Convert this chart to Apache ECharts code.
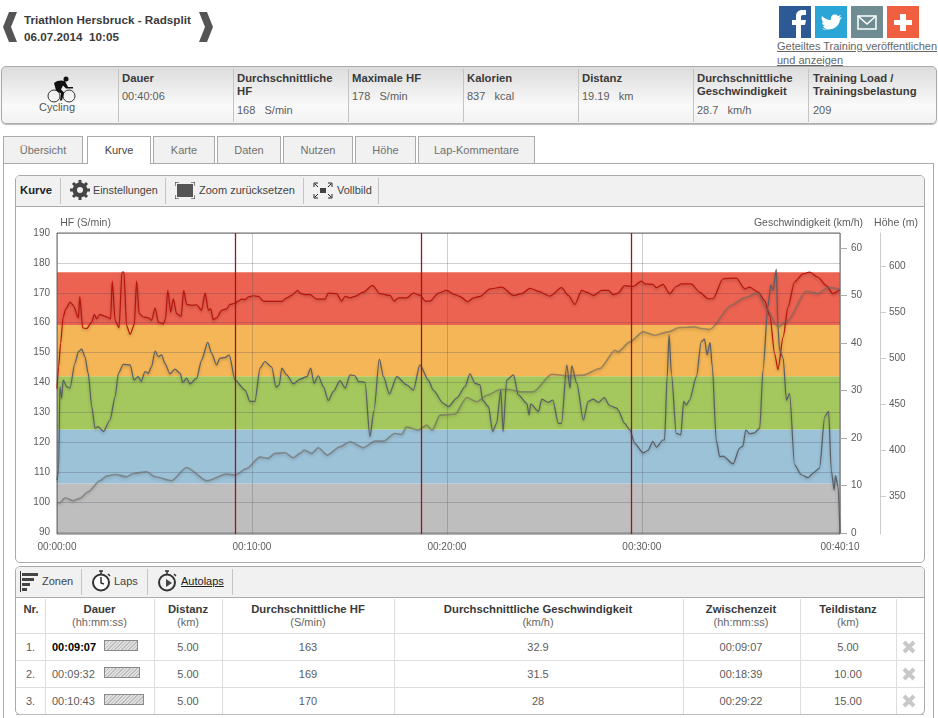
<!DOCTYPE html>
<html><head><meta charset="utf-8">
<script src="https://cdn.jsdelivr.net/npm/echarts@6/dist/echarts.min.js"></script>
<style>
html,body{margin:0;padding:0;width:938px;height:718px;overflow:hidden;background:#fff;font-family:"Liberation Sans",Arial,sans-serif;font-size:11px;color:#5c5c5c}
.a{position:absolute;white-space:nowrap}
.b{font-weight:bold;color:#3a3a3a;font-size:11.300px}
.sep{position:absolute;width:1px;background:#c4c4c4}
.box{position:absolute;box-sizing:border-box}
.tab{position:absolute;top:136px;height:27px;box-sizing:border-box;border:1px solid #aaa;border-bottom:none;background:#f1f1f1;text-align:center;line-height:26px;color:#707070}
.c{position:absolute;text-align:center;transform:translateX(-50%);white-space:nowrap}
.hatch{position:absolute;left:104px;height:11px;box-sizing:border-box;border:1px solid #8a8a8a;background:repeating-linear-gradient(135deg,#bbb 0 1px,#e2e2e2 1px 2.5px)}
.x{position:absolute;left:901px;font-size:0}
</style></head><body>
<svg class="a" style="left:3px;top:12px" width="14" height="30"><path d="M14 0L6 0L0 15L6 30L14 30L8 15Z" fill="#555"/></svg>
<svg class="a" style="left:199px;top:12px" width="14" height="30"><path d="M0 0L8 0L14 15L8 30L0 30L6 15Z" fill="#555"/></svg>
<div class="a b" style="left:24px;top:13px;font-size:11.700px;color:#3c3c3c">Triathlon Hersbruck - Radsplit</div>
<div class="a b" style="left:24px;top:30px;font-size:11.700px;color:#3c3c3c">06.07.2014&nbsp; 10:05</div>
<svg class="a" style="left:779px;top:6px" width="140" height="32">
<rect width="32" height="32" fill="#2d5a95"/><path d="M17 32V19h-4v-5h4v-4c0-4 3-6 6-6h4v5h-3c-1.500 0-2 .8-2 2v3h5l-1 5h-4v13z" fill="#fff"/>
<rect x="36" width="32" height="32" fill="#2aa5d5"/><path d="M43 22c6 3 16 2 18-8l2-3-3 1 2-3-3 1c-3-3-8-1-7 4-4 0-7-2-9-4-1 3 0 5 2 7l-2-1c0 2 1 3 3 4h-2c1 2 2 2 3 3-1 1-3 1-4-1z" fill="#fff"/>
<rect x="72" width="32" height="32" fill="#6f8c92"/><rect x="79" y="10" width="18" height="13" fill="none" stroke="#fff" stroke-width="1.500"/><path d="M79 10l9 8 9-8" fill="none" stroke="#fff" stroke-width="1.500"/>
<rect x="108" width="32" height="32" fill="#f05f40"/><path d="M121 8h6v6h6v5h-6v6h-6v-6h-6v-5h6z" fill="#fff"/></svg>
<div class="a" style="left:777px;top:40px;text-decoration:underline;color:#666">Geteiltes Training veröffentlichen</div>
<div class="a" style="left:777px;top:54px;text-decoration:underline;color:#666">und anzeigen</div>

<div class="box" style="left:1px;top:66px;width:936px;height:58px;border:1px solid #aaa;border-radius:5px;background:linear-gradient(#dcdcdc,#fafafa 70%,#f2f2f2);box-shadow:0 1px 1px #bbb"></div>
<svg class="a" style="left:47px;top:76px" width="30" height="27" viewBox="0 0 30 27"><circle cx="7" cy="20" r="6" fill="none" stroke="#333" stroke-width="1"/><circle cx="22" cy="20" r="6" fill="none" stroke="#333" stroke-width="1"/><circle cx="19" cy="3" r="2.500" fill="#111"/><path d="M7 7c3-3 8-3 11-2l3 6h5v1.500h-7l-3-3-2 4 3 3-2 8h-2l1-7-5-3z" fill="#111"/></svg>
<div class="c" style="left:57px;top:101px;color:#555">Cycling</div>
<div class="sep" style="left:118px;top:69px;height:53px"></div><div class="sep" style="left:233px;top:69px;height:53px"></div><div class="sep" style="left:348px;top:69px;height:53px"></div><div class="sep" style="left:463px;top:69px;height:53px"></div><div class="sep" style="left:578px;top:69px;height:53px"></div><div class="sep" style="left:693px;top:69px;height:53px"></div><div class="sep" style="left:808px;top:69px;height:53px"></div>
<div class="a b" style="left:122px;top:72px">Dauer</div><div class="a" style="left:122px;top:90px">00:40:06</div>
<div class="a b" style="left:237px;top:72px">Durchschnittliche</div><div class="a b" style="left:237px;top:85px">HF</div><div class="a" style="left:237px;top:104px">168 &nbsp; S/min</div>
<div class="a b" style="left:352px;top:72px">Maximale HF</div><div class="a" style="left:352px;top:90px">178 &nbsp; S/min</div>
<div class="a b" style="left:467px;top:72px">Kalorien</div><div class="a" style="left:467px;top:90px">837 &nbsp; kcal</div>
<div class="a b" style="left:582px;top:72px">Distanz</div><div class="a" style="left:582px;top:90px">19.19 &nbsp; km</div>
<div class="a b" style="left:697px;top:72px">Durchschnittliche</div><div class="a b" style="left:697px;top:85px">Geschwindigkeit</div><div class="a" style="left:697px;top:104px">28.7 &nbsp; km/h</div>
<div class="a b" style="left:813px;top:72px">Training Load /</div><div class="a b" style="left:813px;top:85px">Trainingsbelastung</div><div class="a" style="left:813px;top:104px">209</div>

<div class="box" style="left:3px;top:163px;width:931px;height:570px;border:1px solid #aaa"></div>
<div class="tab" style="left:3px;width:80px">Übersicht</div>
<div class="tab" style="left:87px;width:64px;height:28px;background:#fff;color:#444">Kurve</div>
<div class="tab" style="left:153px;width:62px">Karte</div>
<div class="tab" style="left:217px;width:64px">Daten</div>
<div class="tab" style="left:283px;width:70px">Nutzen</div>
<div class="tab" style="left:355px;width:61px">Höhe</div>
<div class="tab" style="left:418px;width:117px">Lap-Kommentare</div>

<div class="box" style="left:15px;top:175px;width:910px;height:388px;border:1px solid #aaa;border-radius:5px"></div>
<div class="box" style="left:16px;top:176px;width:908px;height:31px;background:#f1f1f1;border-bottom:1px solid #aaa;border-radius:4px 4px 0 0"></div>
<div class="a b" style="left:20px;top:184px;color:#222">Kurve</div>
<div class="sep" style="left:60px;top:178px;height:26px"></div><div class="sep" style="left:165px;top:178px;height:26px"></div><div class="sep" style="left:303px;top:178px;height:26px"></div><div class="sep" style="left:378px;top:178px;height:26px"></div>
<svg class="a" style="left:70px;top:180px" width="20" height="20" viewBox="0 0 20 20"><circle cx="10" cy="10" r="5.500" fill="none" stroke="#444" stroke-width="4"/><path d="M10 0v20M0 10h20M3 3l14 14M17 3L3 17" stroke="#444" stroke-width="3"/><circle cx="10" cy="10" r="3" fill="#f1f1f1"/></svg>
<div class="a" style="left:93px;top:184px;color:#444;font-size:10.800px">Einstellungen</div>
<svg class="a" style="left:175px;top:182px" width="20" height="17"><rect x="2" y="2" width="16" height="13" fill="#555"/><path d="M0 4V0h4M16 0h4v4M0 13v4h4M16 17h4v-4" fill="none" stroke="#222"/></svg>
<div class="a" style="left:199px;top:184px;color:#444">Zoom zurücksetzen</div>
<svg class="a" style="left:313px;top:182px" width="20" height="17"><rect x="7" y="6" width="6" height="5" fill="#444"/><path d="M1 5V1h4M15 1h4v4M1 12v4h4M15 16h4v-4M2 2l3 3M18 2l-3 3M2 15l3-3M18 15l-3-3" fill="none" stroke="#222"/></svg>
<div class="a" style="left:337px;top:184px;color:#444">Vollbild</div>

<div id="chart" style="position:absolute;left:0;top:210px;width:938px;height:345px"></div>

<div class="box" style="left:15px;top:566px;width:910px;height:149px;border:1px solid #aaa;border-radius:5px"></div>
<div class="box" style="left:16px;top:567px;width:908px;height:31px;background:#f1f1f1;border-bottom:1px solid #aaa;border-radius:4px 4px 0 0"></div>
<svg class="a" style="left:20px;top:571px" width="19" height="21"><path d="M.5 0v21" stroke="#333"/><rect x="2" y="2" width="16" height="3" fill="#444"/><rect x="2" y="7" width="12" height="3" fill="#444"/><rect x="2" y="12" width="8" height="3" fill="#444"/><rect x="2" y="17" width="5" height="3" fill="#444"/></svg>
<div class="a" style="left:42px;top:575px;color:#444">Zonen</div><div class="sep" style="left:81px;top:569px;height:26px"></div>
<svg class="a" style="left:91px;top:570px" width="20" height="22"><circle cx="10" cy="12.500" r="8" fill="#fff" stroke="#333" stroke-width="2"/><path d="M10 7v6l3 1M8 1h4M10 1v3M17 4l2 2" fill="none" stroke="#333" stroke-width="1.500"/></svg>
<div class="a" style="left:114px;top:575px;color:#444">Laps</div><div class="sep" style="left:147px;top:569px;height:26px"></div>
<svg class="a" style="left:157px;top:570px" width="20" height="22"><circle cx="10" cy="12.500" r="8" fill="#f1f1f1" stroke="#333" stroke-width="2"/><path d="M8 1h4M10 1v3M17 4l2 2" fill="none" stroke="#333" stroke-width="1.500"/><path d="M9 9l6 4-6 4z" fill="#444"/></svg>
<div class="a" style="left:181px;top:575px;color:#222;text-decoration:underline">Autolaps</div><div class="sep" style="left:232px;top:569px;height:26px"></div>

<div id="table"></div>

<script>
// ---- values ----
const zoneEdges = [89.3, 106.2, 124.3, 142.05, 159.2, 176.9];
const zoneColors = ['#bebebe', '#9cc2d8', '#a4c85e', '#f4b656', '#ec6351'];
const hrTicks = [90,100,110,120,130,140,150,160,170,180,190];
const speedTicks = [0,10,20,30,40,50,60];
const heightTicks = [350,400,450,500,550,600];
const timeTicks = [0,600,1200,1800,2410];
const lapSeconds = [548,1120,1766];
const hrPoints = [[0,138],[5,145.2],[11,153],[19,161.9],[27,164.6],[40,166.9],[50,165.8],[66,161.6],[70,168.8],[79,158.3],[91,158],[107,160.2],[115,162.8],[122,161.3],[132,162.8],[148,162.1],[165,161.3],[170,173.9],[179,160.8],[191,158.3],[200,176.9],[206,176.9],[214,159.1],[225,156.1],[238,159.4],[245,173.9],[253,163],[266,161.9],[281,161.6],[291,160.8],[302,165],[312,160.2],[327,159.6],[334,161.3],[341,170.8],[350,163.5],[358,168],[368,163],[382,162.1],[390,170.8],[399,166.1],[414,165.8],[430,166],[445,164.1],[456,169.9],[466,164.1],[473,164.6],[481,161],[491,161.6],[507,164.1],[522,164.6],[532,166.1],[548,166.5],[558,167.2],[568,167.9],[579,167.7],[589,168.6],[604,169],[620,168.8],[635,167.2],[656,167.1],[692,167.1],[707,168.3],[722,169.1],[741,170.8],[748,169.9],[763,169.4],[779,169.4],[799,167.9],[825,167.9],[835,169.9],[861,169.7],[876,167.2],[887,168.8],[902,168.3],[917,168.8],[943,170.2],[971,172.5],[994,169.7],[1025,169.1],[1038,167.2],[1051,168.3],[1076,168.3],[1097,169.9],[1119,169.1],[1133,167.2],[1148,167.2],[1174,169.9],[1199,170.8],[1225,169.4],[1240,168.8],[1264,167],[1282,168.3],[1302,168.8],[1333,171.3],[1369,171.9],[1405,169.1],[1430,169.7],[1456,171.5],[1482,170.5],[1517,168.9],[1553,171.7],[1574,169.1],[1594,166.1],[1615,170.8],[1630,170.2],[1651,169.1],[1677,170.8],[1697,170.8],[1712,169.4],[1727,169.9],[1747,172.4],[1773,172.1],[1799,173.9],[1809,173],[1834,172.8],[1845,171.7],[1865,172.8],[1886,169.7],[1906,172.1],[1922,173],[1952,173],[1978,170.2],[2004,168],[2019,168],[2050,174.7],[2091,174.9],[2117,171.3],[2132,171.9],[2158,170.2],[2178,167.4],[2194,162.4],[2209,149.6],[2219,144.3],[2235,155.2],[2250,165.2],[2270,173.6],[2296,176.3],[2317,176.9],[2342,175.2],[2368,172.4],[2388,169.7],[2409,171]];
const speedPoints = [[0,11.2],[5,13.3],[9,30.8],[14,28.4],[19,32.2],[30,30.8],[40,30.5],[55,35.7],[66,38.2],[76,38.7],[86,37.1],[96,33.6],[107,26.6],[117,22.1],[127,22.4],[143,21.4],[163,23.8],[179,28.7],[189,33.6],[204,35.5],[225,35.4],[237,32.2],[250,32.9],[259,31.9],[271,34],[281,33.6],[291,35],[302,38.3],[312,37.1],[322,37.5],[332,35.7],[348,33.5],[363,34.5],[379,33.6],[387,31.7],[399,32.6],[409,31.4],[430,32.6],[445,36.4],[464,40.1],[476,37.8],[491,35.4],[502,36.8],[517,36.9],[530,37.5],[548,32.2],[579,30.1],[594,27.7],[609,27.7],[625,34.7],[640,36.1],[661,34.9],[674,30.7],[684,31.2],[692,34.7],[707,33.3],[727,31.4],[748,32.4],[769,32.9],[781,34.7],[791,31.5],[804,33.1],[820,30.8],[835,27.9],[851,29.8],[871,32.1],[887,30.5],[902,33.3],[917,33.1],[928,31.9],[948,31.7],[963,20.3],[976,25.9],[992,36.6],[1005,32.9],[1023,29.3],[1046,32.9],[1076,31.2],[1097,30.1],[1117,35.4],[1143,32.2],[1158,30.1],[1189,27.3],[1205,26.6],[1230,28.4],[1256,30.8],[1271,33.5],[1287,31.5],[1302,31.2],[1310,28],[1328,26.6],[1341,21.4],[1353,23.1],[1366,30.1],[1373,21.4],[1384,32.2],[1405,33.3],[1420,29.1],[1446,27.3],[1453,24.9],[1458,27.2],[1482,25.6],[1492,28.2],[1512,27.5],[1526,28],[1543,23.1],[1553,23.1],[1569,35.4],[1579,30.5],[1584,35.2],[1600,31.5],[1620,23.8],[1635,27.7],[1651,28.2],[1666,27.5],[1684,28.5],[1702,26.8],[1723,26.3],[1727,25.9],[1747,23.1],[1763,21.8],[1778,18.9],[1804,16.9],[1819,17.4],[1834,19.3],[1845,18.1],[1865,19.6],[1870,19.6],[1878,32.9],[1884,41.7],[1891,33.6],[1906,21],[1920,20.7],[1929,27.7],[1937,27],[1947,28],[1968,32.9],[1983,40.3],[1993,40.8],[2001,37.5],[2010,40.1],[2017,35],[2029,19.6],[2040,16.1],[2050,16.2],[2081,14.6],[2101,17.9],[2111,18.3],[2120,21.7],[2132,20.9],[2147,21.1],[2163,22.1],[2173,34.3],[2188,47.6],[2197,52.2],[2204,51.1],[2214,55.5],[2219,43.4],[2224,38.5],[2235,36.8],[2245,28],[2255,29.4],[2270,14.4],[2291,12.3],[2312,11.7],[2327,12.6],[2347,13.7],[2363,24.5],[2375,25.6],[2383,13.3],[2392,9.1],[2396,12.1],[2404,9.8],[2410,0]];
const heightPoints = [[0,343.5],[9,343.5],[25,348.9],[50,345.6],[71,348.2],[96,355.4],[132,367.3],[153,372.3],[179,374.1],[214,371.6],[235,375.2],[276,377],[302,371.6],[353,367.3],[399,381.7],[461,367.3],[522,374.5],[548,373.4],[584,380.6],[625,392.9],[650,391.5],[671,396.9],[702,397.6],[727,392.2],[748,396.9],[761,400.5],[784,396.9],[804,403],[832,395.1],[871,404.1],[902,409.5],[943,403],[979,410.2],[1005,410.2],[1040,418.5],[1061,417.4],[1076,425.7],[1112,422.1],[1138,427.5],[1155,422.1],[1179,438.4],[1225,439.4],[1261,457.5],[1292,452.8],[1323,460],[1364,466.1],[1389,466.1],[1430,463.6],[1466,463.6],[1523,482.7],[1569,480.9],[1620,481.7],[1671,488.9],[1718,508.7],[1727,506.9],[1763,517.7],[1804,528.6],[1840,525],[1881,528.6],[1916,533.3],[1963,534],[1983,532.2],[2009,531.1],[2076,557.4],[2117,565.7],[2158,570.8],[2183,553.8],[2219,534],[2250,541.2],[2306,572.6],[2342,570.1],[2373,576.5],[2409,575.1]];

// ---- table ----
const columnEdges = [45,154,222,394,683,800,896];
const headers = [['Nr.','',31],['Dauer','(hh:mm:ss)',99.500],['Distanz','(km)',188],['Durchschnittliche HF','(S/min)',308],['Durchschnittliche Geschwindigkeit','(km/h)',538],['Zwischenzeit','(hh:mm:ss)',741],['Teildistanz','(km)',848]];
const rows = [['1.','00:09:07','5.00','163','32.9','00:09:07','5.00',34],['2.','00:09:32','5.00','169','31.5','00:18:39','10.00',36],['3.','00:10:43','5.00','170','28','00:29:22','15.00',40]];
let h = '';
for (const x of columnEdges) h += `<div class="sep" style="left:${x}px;top:599px;height:115px;background:#ddd"></div>`;
for (const [t,u,x] of headers) { h += `<div class="c b" style="left:${x}px;top:603px">${t}</div>`; if(u) h += `<div class="c" style="left:${x}px;top:616px;color:#666">${u}</div>`; }
rows.forEach((r,i)=>{
  const y = 633 + i*27;
  h += `<div class="box" style="left:16px;top:${y}px;width:908px;height:1px;background:#ddd"></div>`;
  const ty = y + 8;
  h += `<div class="a" style="left:26px;top:${ty}px">${r[0]}</div>`;
  h += `<div class="a" style="left:52px;top:${ty}px;${i==0?'font-weight:bold;color:#000':''}">${r[1]}</div>`;
  h += `<div class="hatch" style="top:${y+7}px;width:${r[7]}px"></div>`;
  [188,308,538,741,848].forEach((x,j)=>{ h += `<div class="c" style="left:${x}px;top:${ty}px">${r[j+2]}</div>`; });
  h += `<svg class="x" style="top:${y+6}px" width="16" height="16"><path d="M3 3L13 13M13 3L3 13" stroke="#c8c8c8" stroke-width="4"/></svg>`;
});
h += `<div class="box" style="left:16px;top:714px;width:908px;height:1px;background:#bbb"></div>`;
document.getElementById('table').innerHTML = h;

// ---- chart ----
const fmt = s => [Math.floor(s/3600),Math.floor(s%3600/60),s%60].map(n=>String(n).padStart(2,'0')).join(':');
const gridLine = {show:true,lineStyle:{color:'rgba(70,65,90,0.26)',width:1}};
const axisFont = {color:'#5c5c5c',fontSize:10,fontFamily:'Liberation Sans'};
const nameFont = {color:'#5c5c5c',fontSize:10.500,fontFamily:'Liberation Sans',verticalAlign:'bottom'};
const shadow = {shadowBlur:3,shadowOffsetY:1.500,shadowColor:'rgba(0,0,0,0.28)'};
const chart = echarts.init(document.getElementById('chart'),null,{renderer:'canvas'});
chart.setOption({
  animation:false,
  grid:{left:57,top:23,width:783,height:301,show:true,backgroundColor:'transparent',borderColor:'#6a6a6a',borderWidth:1,containLabel:false},
  xAxis:{type:'value',min:0,max:2410,
    axisLine:{show:false},axisTick:{show:false,customValues:timeTicks},
    axisLabel:{...axisFont,margin:8,customValues:timeTicks,formatter:v=>fmt(v),hideOverlap:false},
    splitLine:{show:true,lineStyle:{color:'rgba(80,80,90,0.28)',width:1}}},
  yAxis:[
    {type:'value',name:'HF (S/min)',nameLocation:'end',nameGap:4,nameMoveOverlap:false,position:'left',min:89.3,max:190,
     nameTextStyle:{...nameFont,align:'center',padding:[0,0,0,57]},
     axisLine:{show:false},axisTick:{show:false,customValues:hrTicks},
     axisLabel:{...axisFont,margin:7,customValues:hrTicks},splitLine:gridLine},
    {type:'value',name:'Geschwindigkeit (km/h)',nameLocation:'end',nameGap:4,nameMoveOverlap:false,position:'right',min:-0.15,max:63.1,
     nameTextStyle:{...nameFont,align:'center',padding:[0,63,0,0]},
     axisLine:{show:false},axisTick:{show:true,length:7,inside:false,lineStyle:{color:'#aaa'},customValues:speedTicks},
     axisLabel:{...axisFont,margin:11,customValues:speedTicks},splitLine:{show:false}},
    {type:'value',name:'Höhe (m)',nameLocation:'end',nameGap:4,nameMoveOverlap:false,position:'right',offset:40,min:309.6,max:635.7,
     nameTextStyle:{...nameFont,align:'center',padding:[0,0,0,32]},
     axisLine:{show:true,onZero:false,lineStyle:{color:'#ccc'}},axisTick:{show:true,length:6,lineStyle:{color:'#ccc'},customValues:heightTicks},
     axisLabel:{...axisFont,margin:9,customValues:heightTicks},splitLine:{show:false}}
  ],
  series:[
    {name:'Zonen',type:'line',yAxisIndex:0,data:[],silent:true,z:-1,
     markArea:{silent:true,z:-1,data:zoneColors.map((c,i)=>[{yAxis:zoneEdges[i],itemStyle:{color:c}},{yAxis:zoneEdges[i+1]}])}},
    {name:'HF',type:'line',yAxisIndex:0,data:hrPoints,symbol:'none',smooth:0.25,smoothMonotone:'x',z:3,
     lineStyle:{color:'#b8140e',width:1.200,...shadow},
     markLine:{silent:true,symbol:'none',z:6,label:{show:false},lineStyle:{color:'#9c1420',width:1.300,type:'solid',shadowBlur:0,shadowOffsetY:0},data:lapSeconds.map(s=>({xAxis:s}))}},
    {name:'Geschwindigkeit',type:'line',yAxisIndex:1,data:speedPoints,symbol:'none',smooth:0.25,smoothMonotone:'x',z:4,
     lineStyle:{color:'#5a5e64',width:1.200,...shadow}},
    {name:'Höhe',type:'line',yAxisIndex:2,data:heightPoints,symbol:'none',smooth:0.25,smoothMonotone:'x',z:5,
     lineStyle:{color:'rgba(110,105,100,0.62)',width:1.600,...shadow}}
  ]
});
</script>
</body></html>
